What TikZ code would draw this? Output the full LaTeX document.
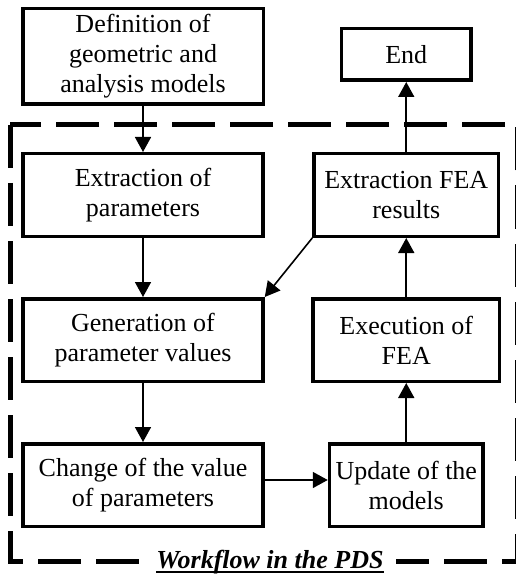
\documentclass[tikz,border=0pt]{standalone}
\usepackage{fontspec}
\setmainfont{Liberation Serif}
\usetikzlibrary{positioning,arrows.meta}

\newcommand\thickul[1]{\setbox0\hbox{#1}\rlap{\rule[-5pt]{\wd0}{2pt}}\box0}

\begin{document}
\begin{tikzpicture}[x=1pt,y=-1pt,
  box/.style = {draw, line width=3.5pt, align=center, inner sep=2pt, font=\fontsize{26}{30}\selectfont},
  arr/.style = {line width=1.6pt, -{Triangle[length=15pt,width=16pt]}},
  dashbox/.style = {line width=5pt, dash pattern=on 43pt off 15pt}]
  \useasboundingbox (0,0) rectangle (515,577);

  % left column
  \node[box, minimum width=240.5pt, minimum height=95.5pt] (def) at (143,56.5) {Definition of\\geometric and\\analysis models};
  \node[box, minimum width=240pt, minimum height=82.5pt] (extpar) [below=46pt of def] {Extraction of\\parameters};
  \node[box, minimum width=240pt, minimum height=82.5pt] (gen) [below=59pt of extpar] {Generation of\\parameter values};
  \node[box, minimum width=240pt, minimum height=82.5pt] (change) [below=59pt of gen] {Change of the value\\of parameters};

  % right column
  \node[box, minimum width=153.5pt, minimum height=82.5pt] (update) [right=63pt of change] {Update of the\\models};
  \node[box, minimum width=186.5pt, minimum height=82.5pt] (exec) [above=59pt of update] {Execution of\\FEA};
  \node[box, minimum width=184.5pt, minimum height=82.5pt] (extfea) [above=59pt of exec] {Extraction FEA\\results};
  \node[box, minimum width=129.5pt, minimum height=51.5pt] (endbox) [above=70pt of extfea] {End};

  \draw[arr] (def) -- (extpar);
  \draw[arr] (extpar) -- (gen);
  \draw[arr] (gen) -- (change);
  \draw[arr] ([yshift=5pt]change.east) -- ([yshift=5pt]update.west);
  \draw[arr] (update) -- (exec);
  \draw[arr] (exec) -- (extfea);
  \draw[arr] (extfea) -- (endbox);
  \draw[arr] (extfea.south west) -- (gen.north east);

  % PDS frame
  \draw[dashbox] (10,125) rectangle (517.5,561);
  \node[fill=white, inner xsep=12pt, inner ysep=1pt, anchor=base, font=\fontsize{26}{30}\selectfont] (lbl) at (270,568) {\thickul{\textbf{\textit{Workflow in the PDS}}}};
\end{tikzpicture}
\end{document}
